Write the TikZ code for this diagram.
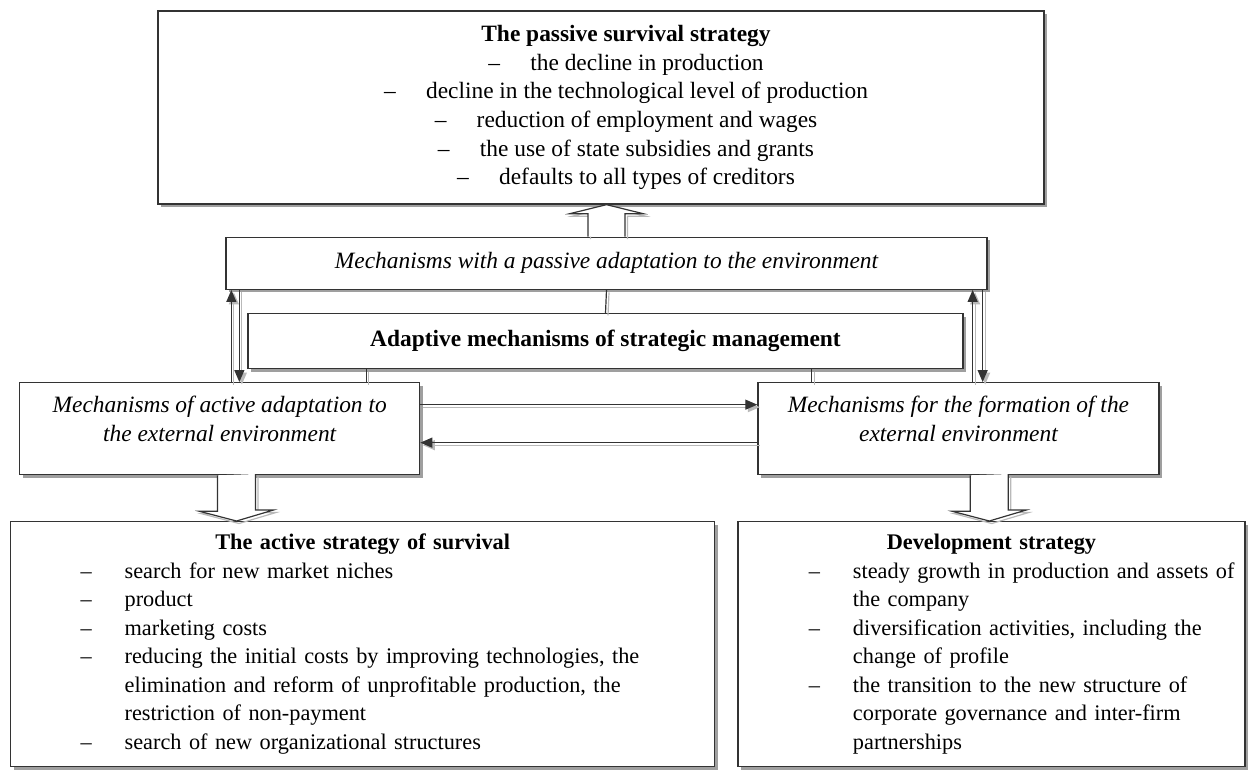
\documentclass[tikz,border=0pt]{standalone}
\usepackage{fontspec}
\setmainfont{Liberation Serif}
\usepackage{tikz}
\usetikzlibrary{positioning,arrows.meta,shadows}
\tikzset{every node/.style={font=\fontsize{23.4}{28.7}\selectfont}}
\newcommand{\pitem}[1]{\hspace*{50pt}\makebox[42pt][l]{--}#1}
\newcommand{\sitem}[1]{\par\hangindent=44pt\hangafter=1\makebox[44pt][l]{--}#1}

\begin{document}
\begin{tikzpicture}[
    x=1pt, y=-1pt,
    >={Triangle[length=12pt,width=10pt]},
    box/.style={rectangle, draw=black!80, line width=1.3pt, fill=white,
        drop shadow={shadow xshift=3pt, shadow yshift=-3pt, fill=gray!75, opacity=1}},
    mechbox/.style={box, font=\fontsize{23.4}{28.7}\selectfont\itshape, align=center},
    stratbox/.style={box, font=\fontsize{22.3}{28.5}\selectfont, align=center,
        inner xsep=7pt, minimum height=245pt},
    link/.style={draw=black!80, line width=1.2pt,
        preaction={draw=gray!55, line width=1.2pt, transform canvas={xshift=2.5pt, yshift=-2.5pt}}},
    hollow/.style={link, fill=white}
]
\useasboundingbox (0,0) rectangle (1255,769);

\node (top) [box, minimum width=886pt, minimum height=193pt, align=center] at (601,107.5)
    {\hspace*{50pt}\textbf{The passive survival strategy}\\
     \pitem{the decline in production}\\
     \pitem{decline in the technological level of production}\\
     \pitem{reduction of employment and wages}\\
     \pitem{the use of state subsidies and grants}\\
     \pitem{defaults to all types of creditors}};

\node (passive) [mechbox, minimum width=761pt, minimum height=52pt, below=32pt of top, xshift=5.5pt]
    {Mechanisms with a passive adaptation to the environment};

\node (adaptive) [box, font=\fontsize{23.4}{28.7}\selectfont\bfseries, minimum width=715pt,
    minimum height=55pt, below=23pt of passive, xshift=-1pt]
    {Adaptive mechanisms of strategic management};

\node (active) [mechbox, minimum width=400pt, minimum height=92pt, text depth=20pt, anchor=north west] at (19,382)
    {Mechanisms of active adaptation to\\the external environment};

\node (formation) [mechbox, minimum width=401pt, minimum height=92pt, text depth=20pt, right=337pt of active]
    {Mechanisms for the formation of the\\external environment};

\node (activestrat) [stratbox, minimum width=704pt, text width=690pt, anchor=north west] at (10,521)
    {\textbf{The active strategy of survival}\par
     \raggedright\leftskip=63pt\parskip=0pt
     \sitem{search for new market niches}
     \sitem{product}
     \sitem{marketing costs}
     \sitem{reducing the initial costs by improving technologies, the\newline
        elimination and reform of unprofitable production, the\newline
        restriction of non-payment}
     \sitem{search of new organizational structures}\par};

\node (devstrat) [stratbox, minimum width=507pt, text width=493pt, right=22pt of activestrat]
    {\textbf{Development strategy}\par
     \raggedright\leftskip=64pt\parskip=0pt
     \sitem{steady growth in production and assets of\newline the company}
     \sitem{diversification activities, including the\newline change of profile}
     \sitem{the transition to the new structure of\newline
        corporate governance and inter-firm\newline partnerships}\par};

% links between the mechanisms
\coordinate (upL) at ([xshift=6pt]passive.south west);
\coordinate (dnL) at ([xshift=14pt]passive.south west);
\coordinate (upR) at ([xshift=-15pt]passive.south east);
\coordinate (dnR) at ([xshift=-5pt]passive.south east);
\coordinate (lkL) at ([xshift=119pt]adaptive.south west);
\coordinate (lkR) at ([xshift=-152pt]adaptive.south east);
\coordinate (hA) at ([yshift=24pt]active.east);
\coordinate (hF) at ([yshift=-14pt]formation.west);

\draw[link] (passive.south) -- (adaptive.north);
\draw[link] (lkL) -- (lkL |- active.north);
\draw[link] (lkR) -- (lkR |- formation.north);

\draw[link,->] (upL |- active.north) -- (upL);
\draw[link,->] (dnL) -- (dnL |- active.north);
\draw[link,->] (upR |- formation.north) -- (upR);
\draw[link,->] (dnR) -- (dnR |- formation.north);

\draw[link,->] (hA) -- (hA -| formation.west);
\draw[link,->] (hF) -- (hF -| active.east);

% hollow arrows to the strategies
\coordinate (dnA) at ([xshift=217.5pt]active.south west);
\coordinate (dnF) at ([xshift=232pt]formation.south west);

\draw[hollow] ([xshift=-18.5pt]passive.north) -- ++(0,-23) -- ++(-18,0)
    -- (passive.north |- top.south) -- ++(36.5,9) -- ++(-18,0) -- ++(0,23);
\draw[hollow] ([xshift=-19pt]dnA) -- ++(0,36) -- ++(-18,0)
    -- (dnA |- activestrat.north) -- ++(37,-11) -- ++(-18,0) -- ++(0,-36);
\draw[hollow] ([xshift=-19pt]dnF) -- ++(0,36) -- ++(-18,0)
    -- (dnF |- devstrat.north) -- ++(37,-11) -- ++(-18,0) -- ++(0,-36);

\end{tikzpicture}
\end{document}
